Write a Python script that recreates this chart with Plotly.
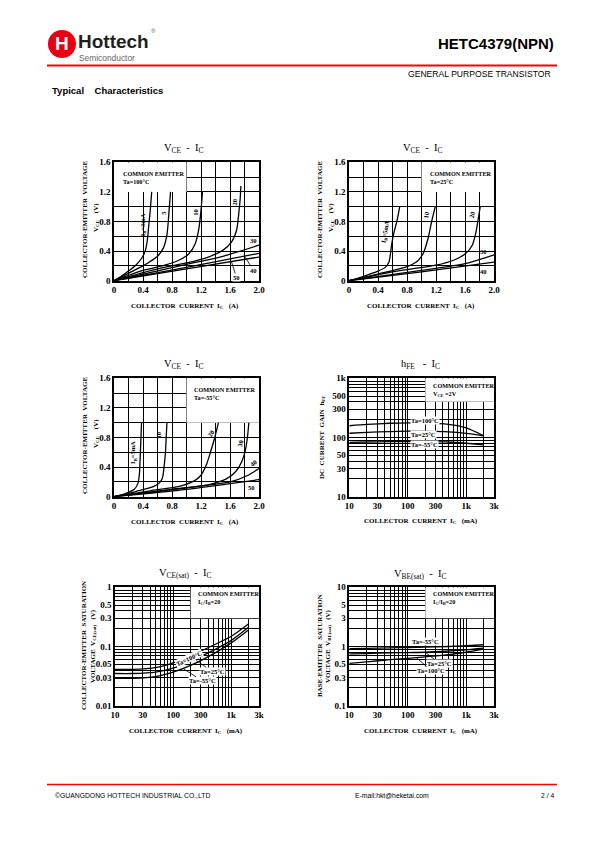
import math
import plotly.graph_objects as go

# ---------------- data ----------------
# Chart 1: V_CE - I_C, Ta = 100 C   (I_C in A, V_CE in V)
t100_ib3_ic = [0, 0.10, 0.20, 0.30, 0.38, 0.43, 0.46, 0.48, 0.50, 0.52]
t100_ib3_vce = [0, 0.06, 0.13, 0.21, 0.30, 0.40, 0.55, 0.75, 0.95, 1.20]
t100_ib5_ic = [0, 0.20, 0.40, 0.50, 0.60, 0.68, 0.73, 0.76, 0.78]
t100_ib5_vce = [0, 0.10, 0.20, 0.26, 0.33, 0.44, 0.62, 0.95, 1.20]
t100_ib10_ic = [0, 0.40, 0.70, 0.90, 1.03, 1.12, 1.17, 1.20, 1.22]
t100_ib10_vce = [0, 0.14, 0.21, 0.28, 0.36, 0.50, 0.70, 0.95, 1.20]
t100_ib20_ic = [0, 0.60, 1.00, 1.30, 1.50, 1.62, 1.69, 1.72, 1.74, 1.75]
t100_ib20_vce = [0, 0.16, 0.24, 0.32, 0.41, 0.52, 0.68, 0.90, 1.10, 1.28]
t100_ib30_ic = [0, 1.00, 1.50, 2.00]
t100_ib30_vce = [0, 0.22, 0.33, 0.48]
t100_ib40_ic = [0, 1.00, 2.00]
t100_ib40_vce = [0, 0.18, 0.37]
t100_ib50_ic = [0, 1.00, 2.00]
t100_ib50_vce = [0, 0.16, 0.32]

# Chart 2: V_CE - I_C, Ta = 25 C
t25_ib5_ic = [0, 0.20, 0.40, 0.50, 0.55, 0.57, 0.59, 0.62, 0.66, 0.70]
t25_ib5_vce = [0, 0.06, 0.13, 0.18, 0.25, 0.35, 0.50, 0.65, 0.80, 1.00]
t25_ib10_ic = [0, 0.40, 0.80, 0.95, 1.02, 1.09, 1.14, 1.19]
t25_ib10_vce = [0, 0.09, 0.19, 0.27, 0.36, 0.57, 0.80, 1.00]
t25_ib20_ic = [0, 0.60, 1.20, 1.45, 1.60, 1.70, 1.75, 1.78, 1.81]
t25_ib20_vce = [0, 0.12, 0.21, 0.28, 0.36, 0.48, 0.65, 0.82, 1.00]
t25_ib30_ic = [0, 1.00, 1.60, 2.00]
t25_ib30_vce = [0, 0.14, 0.23, 0.35]
t25_ib40_ic = [0, 1.00, 2.00]
t25_ib40_vce = [0, 0.12, 0.25]

# Chart 3: V_CE - I_C, Ta = -55 C
tm55_ib5_ic = [0, 0.15, 0.28, 0.33, 0.35, 0.36, 0.37, 0.38]
tm55_ib5_vce = [0, 0.04, 0.10, 0.18, 0.30, 0.50, 0.75, 1.00]
tm55_ib10_ic = [0, 0.30, 0.55, 0.63, 0.67, 0.69, 0.71, 0.72, 0.73]
tm55_ib10_vce = [0, 0.07, 0.14, 0.19, 0.26, 0.40, 0.60, 0.80, 1.00]
tm55_ib20_ic = [0, 0.50, 0.90, 1.10, 1.20, 1.27, 1.33, 1.39, 1.44]
tm55_ib20_vce = [0, 0.08, 0.14, 0.21, 0.29, 0.42, 0.60, 0.80, 1.00]
tm55_ib30_ic = [0, 0.80, 1.30, 1.55, 1.68, 1.76, 1.81, 1.84, 1.86]
tm55_ib30_vce = [0, 0.10, 0.16, 0.24, 0.34, 0.47, 0.62, 0.80, 1.00]
tm55_ib40_ic = [0, 1.00, 1.60, 1.85, 2.00]
tm55_ib40_vce = [0, 0.12, 0.20, 0.29, 0.38]
tm55_ib50_ic = [0, 1.00, 2.00]
tm55_ib50_vce = [0, 0.10, 0.23]

# Chart 4: h_FE - I_C (I_C in mA)
hfe_ic = [10, 20, 50, 100, 200, 500, 1000, 2000]
hfe_t100 = [158, 166, 174, 177, 176, 166, 145, 107]
hfe_t25 = [118, 122, 126, 128, 128, 124, 117, 107]
hfe_tm55 = [83, 84, 85, 85, 85, 84, 80, 75]

# Chart 5: V_CE(sat) - I_C
vcesat_ic = [10, 20, 50, 100, 200, 500, 1000, 2000]
vcesat_t100 = [0.041, 0.041, 0.044, 0.053, 0.070, 0.106, 0.149, 0.243]
vcesat_t25 = [0.035, 0.035, 0.037, 0.043, 0.057, 0.087, 0.127, 0.214]
vcesat_tm55 = [0.029, 0.029, 0.031, 0.037, 0.048, 0.076, 0.115, 0.192]

# Chart 6: V_BE(sat) - I_C
vbesat_ic = [10, 20, 50, 100, 200, 500, 1000, 2000]
vbesat_tm55 = [0.92, 0.93, 0.95, 0.96, 0.98, 1.00, 1.03, 1.07]
vbesat_t25 = [0.75, 0.76, 0.78, 0.79, 0.80, 0.84, 0.88, 0.94]
vbesat_t100 = [0.52, 0.55, 0.60, 0.63, 0.67, 0.73, 0.80, 0.90]

# tick values / labels
lin_ic_ticks = [0, 0.4, 0.8, 1.2, 1.6, 2.0]
lin_ic_labels = ["0", "0.4", "0.8", "1.2", "1.6", "2.0"]
lin_ic_minor = [0.2, 0.6, 1.0, 1.4, 1.8]
lin_v_ticks = [0, 0.4, 0.8, 1.2, 1.6]
lin_v_labels = ["0", "0.4", "0.8", "1.2", "1.6"]
lin_v_minor = [0.2, 0.6, 1.0, 1.4]
log_ic_ticks = [10, 30, 100, 300, 1000, 3000]
log_ic_labels = ["10", "30", "100", "300", "1k", "3k"]
log_ic_minor = [20, 40, 50, 60, 70, 80, 90, 200, 400, 500, 600, 700, 800, 900, 2000]
hfe_ticks = [10, 30, 50, 100, 300, 500, 1000]
hfe_labels = ["10", "30", "50", "100", "300", "500", "1k"]
hfe_minor = [20, 40, 60, 70, 80, 90, 200, 400, 600, 700, 800, 900]
vce_ticks = [0.01, 0.03, 0.05, 0.1, 0.3, 0.5, 1]
vce_labels = ["0.01", "0.03", "0.05", "0.1", "0.3", "0.5", "1"]
vce_minor = [0.02, 0.04, 0.06, 0.07, 0.08, 0.09, 0.2, 0.4, 0.6, 0.7, 0.8, 0.9]
vbe_ticks = [0.1, 0.3, 0.5, 1, 3, 5, 10]
vbe_labels = ["0.1", "0.3", "0.5", "1", "3", "5", "10"]
vbe_minor = [0.2, 0.4, 0.6, 0.7, 0.8, 0.9, 2, 4, 6, 7, 8, 9]

# ---------------- helpers ----------------
W, H = 595, 842
SERIF = "Liberation Serif"
SANS = "Liberation Sans"
INK = "black"
L = math.log10


def px(x):
    return x / W


def py(y):
    return 1 - y / H


fig = go.Figure()


def curve(n, xs, ys):
    fig.add_trace(go.Scatter(
        x=xs, y=ys, mode="lines", xaxis=f"x{n}", yaxis=f"y{n}",
        line=dict(color=INK, width=1.3, shape="spline", smoothing=0.7),
        hoverinfo="skip", showlegend=False))


for xs, ys in [(t100_ib3_ic, t100_ib3_vce), (t100_ib5_ic, t100_ib5_vce), (t100_ib10_ic, t100_ib10_vce),
               (t100_ib20_ic, t100_ib20_vce), (t100_ib30_ic, t100_ib30_vce), (t100_ib40_ic, t100_ib40_vce),
               (t100_ib50_ic, t100_ib50_vce)]:
    curve(1, xs, ys)
for xs, ys in [(t25_ib5_ic, t25_ib5_vce), (t25_ib10_ic, t25_ib10_vce), (t25_ib20_ic, t25_ib20_vce),
               (t25_ib30_ic, t25_ib30_vce), (t25_ib40_ic, t25_ib40_vce)]:
    curve(2, xs, ys)
for xs, ys in [(tm55_ib5_ic, tm55_ib5_vce), (tm55_ib10_ic, tm55_ib10_vce), (tm55_ib20_ic, tm55_ib20_vce),
               (tm55_ib30_ic, tm55_ib30_vce), (tm55_ib40_ic, tm55_ib40_vce), (tm55_ib50_ic, tm55_ib50_vce)]:
    curve(3, xs, ys)
for ys in [hfe_t100, hfe_t25, hfe_tm55]:
    curve(4, hfe_ic, ys)
for ys in [vcesat_t100, vcesat_t25, vcesat_tm55]:
    curve(5, vcesat_ic, ys)
for ys in [vbesat_tm55, vbesat_t25, vbesat_t100]:
    curve(6, vbesat_ic, ys)

tickfont = dict(family=SERIF, size=9, color=INK, weight="bold")


def axis(domain, anchor, typ, rng, tv, tt, minor):
    return dict(domain=domain, anchor=anchor, type=typ, range=rng,
                tickmode="array", tickvals=tv, ticktext=tt, tickfont=tickfont,
                showgrid=True, gridcolor=INK, gridwidth=0.8,
                minor=dict(tickmode="array", tickvals=minor, showgrid=True,
                           gridcolor=INK, gridwidth=0.7, ticks=""),
                showline=True, linecolor=INK, linewidth=1.6, mirror=True,
                zeroline=False, ticks="", fixedrange=True, automargin=False)


def xd(a, b):
    return [px(a), px(b)]


def yd(top, bottom):
    return [py(bottom), py(top)]


layout_axes = {}
cfg = [
    (1, xd(114, 259), yd(162.3, 280.7), "linear", "linear"),
    (2, xd(349, 494), yd(162.3, 280.7), "linear", "linear"),
    (3, xd(114, 259), yd(378.3, 496.7), "linear", "linear"),
    (4, xd(349.3, 494), yd(378.3, 496.7), "log", "hfe"),
    (5, xd(115, 259), yd(587.3, 705.7), "log", "vce"),
    (6, xd(349.3, 494), yd(587.3, 705.7), "log", "vbe"),
]
for n, xdom, ydom, xt, yk in cfg:
    if xt == "linear":
        layout_axes[f"xaxis{n}"] = axis(xdom, f"y{n}", "linear", [0, 2.0], lin_ic_ticks, lin_ic_labels, lin_ic_minor)
        layout_axes[f"yaxis{n}"] = axis(ydom, f"x{n}", "linear", [0, 1.6], lin_v_ticks, lin_v_labels, lin_v_minor)
    else:
        layout_axes[f"xaxis{n}"] = axis(xdom, f"y{n}", "log", [1, L(3000)], log_ic_ticks, log_ic_labels, log_ic_minor)
        if yk == "hfe":
            layout_axes[f"yaxis{n}"] = axis(ydom, f"x{n}", "log", [1, 3], hfe_ticks, hfe_labels, hfe_minor)
        elif yk == "vce":
            layout_axes[f"yaxis{n}"] = axis(ydom, f"x{n}", "log", [-2, 0], vce_ticks, vce_labels, vce_minor)
        else:
            layout_axes[f"yaxis{n}"] = axis(ydom, f"x{n}", "log", [-1, 1], vbe_ticks, vbe_labels, vbe_minor)

shapes = []
# white legend boxes covering the grid (between grid and curves)
for n, x0, x1, y0, y1 in [(1, 0, 1.0, 1.2, 1.6), (2, 1.0, 2.0, 1.2, 1.6), (3, 1.0, 2.0, 1.0, 1.6),
                          (4, 200, 3000, 400, 1000), (5, 200, 3000, 0.3, 1), (6, 200, 3000, 3, 10)]:
    shapes.append(dict(type="rect", xref=f"x{n}", yref=f"y{n}", x0=x0, x1=x1, y0=y0, y1=y1,
                       fillcolor="white", line=dict(width=0), layer="between"))
# header / footer rules
shapes.append(dict(type="line", xref="paper", yref="paper", x0=px(47), x1=px(557), y0=py(65.5), y1=py(65.5),
                   line=dict(color="#ff0000", width=2)))
shapes.append(dict(type="line", xref="paper", yref="paper", x0=px(47), x1=px(557), y0=py(784.5), y1=py(784.5),
                   line=dict(color="#ff0000", width=1.5)))
# logo disc
shapes.append(dict(type="circle", xref="paper", yref="paper", x0=px(48), x1=px(76), y0=py(58), y1=py(30),
                   fillcolor="#e60012", line=dict(width=0)))

anns = []


def text(t, x, y, size, xref="paper", yref="paper", family=SERIF, bold=True, angle=0,
         xanchor="center", yanchor="middle", color=INK, bg=None, align="center"):
    d = dict(text=t, x=x, y=y, xref=xref, yref=yref, showarrow=False, textangle=angle,
             xanchor=xanchor, yanchor=yanchor, align=align,
             font=dict(family=family, size=size, color=color, weight="bold" if bold else "normal"))
    if bg:
        d["bgcolor"] = bg
        d["borderpad"] = 0
    anns.append(d)


def leader(t, x, y, ax, ay, n, size=6.5):
    anns.append(dict(text=t, x=x, y=y, xref=f"x{n}", yref=f"y{n}", showarrow=True, arrowhead=0,
                     arrowwidth=0.8, arrowcolor=INK, ax=ax, ay=ay, bgcolor="white", borderpad=0,
                     font=dict(family=SERIF, size=size, color=INK, weight="bold")))


# ---- header ----
text("H", px(62), py(44), 19, family=SANS, color="white")
text("Hottech", px(76), py(41.5), 19, family=SANS, xanchor="left", color="#231f20")
text("®", px(149), py(31), 6, family=SANS, bold=False, xanchor="left", color="#555555")
text("Semiconductor", px(77), py(58.5), 8.4, family=SANS, bold=False, xanchor="left", color="#666666")
text("HETC4379(NPN)", px(556), py(44), 15, family=SANS, xanchor="right")
text("GENERAL PURPOSE TRANSISTOR", px(553), py(74), 8.6, family=SANS, bold=False, xanchor="right")
text("Typical&#160;&#160;&#160;&#160;Characteristics", px(50), py(90.5), 9.5, family=SANS, xanchor="left")
# ---- footer ----
text("©GUANGDONG HOTTECH INDUSTRIAL CO.,LTD", px(53), py(795), 6.8, family=SANS, bold=False, xanchor="left")
text("E-mail:hkt@heketai.com", px(391.5), py(795), 6.8, family=SANS, bold=False)
text("2 / 4", px(556), py(795), 6.8, family=SANS, bold=False, xanchor="right")

# ---- chart titles ----
for t, x, y in [("V<sub>CE</sub>  -  I<sub>C</sub>", 183, 148), ("V<sub>CE</sub>  -  I<sub>C</sub>", 422, 148),
                ("V<sub>CE</sub>  -  I<sub>C</sub>", 183, 364), ("h<sub>FE</sub>   -  I<sub>C</sub>", 420, 364),
                ("V<sub>CE(sat)</sub>  -  I<sub>C</sub>", 185, 573), ("V<sub>BE(sat)</sub>  -  I<sub>C</sub>", 420, 574)]:
    text(t, px(x), py(y), 10.5, bold=False)

# ---- axis titles ----
xa = "COLLECTOR  CURRENT  I<sub>C</sub>   (A)"
xm = "COLLECTOR  CURRENT  I<sub>C</sub>   (mA)"
for t, x, y in [(xa, 185, 306), (xa, 421, 306), (xa, 185, 522), (xm, 421, 521), (xm, 186, 731), (xm, 421, 731)]:
    text(t, px(x), py(y), 7)
for t, x, y in [("COLLECTOR-EMITTER  VOLTAGE", 85, 220), ("V<sub>CE</sub>    (V)", 96, 218),
                ("COLLECTOR-EMITTER  VOLTAGE", 320, 220), ("V<sub>CE</sub>    (V)", 331, 218),
                ("COLLECTOR-EMITTER  VOLTAGE", 85, 436), ("V<sub>CE</sub>    (V)", 96, 434),
                ("DC  CURRENT  GAIN  h<sub>FE</sub>", 322, 437),
                ("COLLECTOR-EMITTER  SATURATION", 84, 646), ("VOLTAGE  V<sub>CE(sat)</sub>   (V)", 93, 646),
                ("BASE-EMITTER  SATURATION", 320, 646), ("VOLTAGE  V<sub>BE(sat)</sub>   (V)", 328, 646)]:
    text(t, px(x), py(y), 7, angle=-90)

# ---- legend boxes ----
BOX = 6.2
text("COMMON EMITTER<br>Ta=100°C", 0.10, 1.40, BOX, "x1", "y1", xanchor="left", align="left")
text("COMMON EMITTER<br>Ta=25°C", 1.09, 1.40, BOX, "x2", "y2", xanchor="left", align="left")
text("COMMON EMITTER<br>Ta=-55°C", 1.08, 1.40, BOX, "x3", "y3", xanchor="left", align="left")
text("COMMON EMITTER<br>V<sub>CE</sub> =2V", L(250), 2.80, BOX, "x4", "y4", xanchor="left", align="left")
text("COMMON EMITTER<br>I<sub>C</sub>/I<sub>B</sub>=20", L(250), -0.178, BOX, "x5", "y5", xanchor="left", align="left")
text("COMMON EMITTER<br>I<sub>C</sub>/I<sub>B</sub>=20", L(250), 0.822, BOX, "x6", "y6", xanchor="left", align="left")

# ---- curve labels ----
text("I<sub>B</sub>=3mA", 0.40, 0.75, 6.5, "x1", "y1", angle=-90)
text("5", 0.69, 0.92, 6.5, "x1", "y1", angle=-90)
text("10", 1.12, 0.92, 6.5, "x1", "y1", angle=-90)
text("20", 1.66, 1.06, 6.5, "x1", "y1", angle=-90)
text("30", 1.93, 0.55, 6.5, "x1", "y1")
leader("40", 1.80, 0.33, 9, 14, 1)
leader("50", 1.62, 0.26, 5, 16, 1)

text("I<sub>B</sub>=5mA", 0.50, 0.66, 6.5, "x2", "y2", angle=-80)
text("10", 1.07, 0.89, 6.5, "x2", "y2", angle=-80)
text("20", 1.70, 0.89, 6.5, "x2", "y2", angle=-80)
text("30", 1.86, 0.40, 6.5, "x2", "y2")
text("40", 1.86, 0.13, 6.5, "x2", "y2")

text("I<sub>B</sub>=5mA", 0.27, 0.60, 6.5, "x3", "y3", angle=-90)
text("10", 0.62, 0.84, 6.5, "x3", "y3", angle=-90)
text("20", 1.33, 0.86, 6.5, "x3", "y3", angle=-60)
text("30", 1.74, 0.72, 6.5, "x3", "y3", angle=-75)
text("40", 1.93, 0.46, 6.5, "x3", "y3", angle=-40)
text("50", 1.90, 0.13, 6.5, "x3", "y3")

text("Ta=100°C", L(110), L(192), 6.5, "x4", "y4", xanchor="left", bg="white")
text("Ta=25°C", L(110), L(111), 6.5, "x4", "y4", xanchor="left", bg="white")
text("Ta=-55°C", L(110), L(75), 6.5, "x4", "y4", xanchor="left", bg="white")

text("Ta=100°C", L(185), L(0.063), 6.5, "x5", "y5", angle=-25, bg="white")
leader("Ta=25°C", L(250), L(0.058), 16, 11, 5)
leader("Ta=-55°C", L(150), L(0.042), 19, 12, 5)

text("Ta=-55°C", L(200), L(1.22), 6.5, "x6", "y6", bg="white")
leader("Ta=25°C", L(200), L(0.80), 14, 11, 6)
leader("Ta=100°C", L(140), L(0.65), 15, 13, 6)

fig.update_layout(width=W, height=H, margin=dict(l=0, r=0, t=0, b=0, pad=0, autoexpand=False),
                  paper_bgcolor="white", plot_bgcolor="white", showlegend=False,
                  shapes=shapes, annotations=anns, **layout_axes)

fig.write_html("out.html", config={"displayModeBar": False},
               post_script="document.body.style.margin='0px';document.body.style.overflow='hidden';"
                           "document.documentElement.style.overflow='hidden';")
